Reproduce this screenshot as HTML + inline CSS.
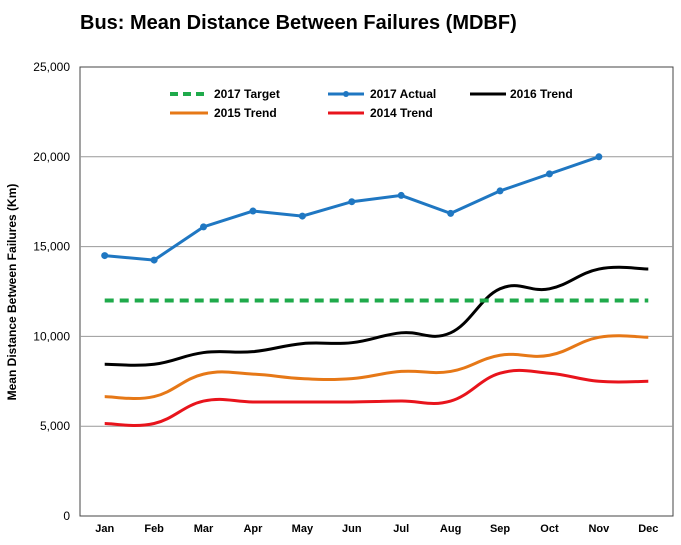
<!DOCTYPE html>
<html><head><meta charset="utf-8"><style>
body{margin:0;background:#fff;font-family:"Liberation Sans",Arial,sans-serif}
svg text{font-family:"Liberation Sans",Arial,sans-serif}
</style></head><body>
<svg id="c" width="681" height="540">
<text x="80" y="29" font-size="20" font-weight="bold">Bus: Mean Distance Between Failures (MDBF)</text>
<rect x="80" y="67" width="593" height="449" fill="none" stroke="#444" stroke-width="1"/>
<g id="grid"></g><g id="series"></g>
<text transform="translate(16,292) rotate(-90)" text-anchor="middle" font-size="12" font-weight="bold">Mean Distance Between Failures (Km)</text>
<g font-size="12" font-weight="bold">
<line x1="170" y1="94" x2="208" y2="94" stroke="#1faa4b" stroke-width="4" stroke-dasharray="8,5"/><text x="214" y="98">2017 Target</text>
<line x1="328" y1="94" x2="364" y2="94" stroke="#1f77c2" stroke-width="3"/><circle cx="346" cy="94" r="3" fill="#1f77c2"/><text x="370" y="98">2017 Actual</text>
<line x1="470" y1="94" x2="506" y2="94" stroke="#000" stroke-width="3"/><text x="510" y="98">2016 Trend</text>
<line x1="170" y1="113" x2="208" y2="113" stroke="#e67817" stroke-width="3"/><text x="214" y="117">2015 Trend</text>
<line x1="328" y1="113" x2="364" y2="113" stroke="#e8141c" stroke-width="3"/><text x="370" y="117">2014 Trend</text>
</g>
</svg>
<script>
const months=["Jan","Feb","Mar","Apr","May","Jun","Jul","Aug","Sep","Oct","Nov","Dec"];
const yTicks=[0,5000,10000,15000,20000,25000];
const target2017=[12000,12000,12000,12000,12000,12000,12000,12000,12000,12000,12000,12000];
const actual2017=[14500,14250,16100,16980,16700,17500,17850,16850,18100,19050,20000];
const trend2016=[8450,8450,9100,9150,9600,9650,10200,10200,12650,12650,13750,13750];
const trend2015=[6650,6650,7900,7900,7650,7650,8050,8050,8950,8950,9950,9950];
const trend2014=[5150,5150,6400,6350,6350,6350,6400,6400,7950,7950,7500,7500];
const NS="http://www.w3.org/2000/svg";
const X0=80,W=593,Y0=516,H=449,MAX=25000;
const x=i=>X0+(i+0.5)*W/months.length;
const y=v=>Y0-v/MAX*H;
function mk(t,a,p){const e=document.createElementNS(NS,t);for(const k in a)e.setAttribute(k,a[k]);p.appendChild(e);return e;}
const grid=document.getElementById('grid'),ser=document.getElementById('series');
yTicks.forEach(v=>{
 if(v>0&&v<MAX){const l=mk('line',{x1:X0,x2:X0+W,y1:y(v),y2:y(v),stroke:'#999','stroke-width':1},grid);
 
 }
 const t=mk('text',{x:X0-10,y:y(v)+4,'text-anchor':'end','font-size':12},grid);t.textContent=v.toLocaleString('en-US');
 
 
});
months.forEach((m,i)=>{const t=mk('text',{x:x(i),y:Y0+16,'text-anchor':'middle','font-size':11,'font-weight':'bold'},grid);t.textContent=m;
 
 });
function smooth(vals){const p=vals.map((v,i)=>[x(i),y(v)]);let d='M'+p[0][0]+','+p[0][1];
 for(let i=0;i<p.length-1;i++){const p0=p[i-1]||p[i],p1=p[i],p2=p[i+1],p3=p[i+2]||p2;const k=0.2;
 d+=` C${p1[0]+(p2[0]-p0[0])*k},${p1[1]+(p2[1]-p0[1])*k} ${p2[0]-(p3[0]-p1[0])*k},${p2[1]-(p3[1]-p1[1])*k} ${p2[0]},${p2[1]}`;}return d;}
function line(vals){return vals.map((v,i)=>(i?'L':'M')+x(i)+','+y(v)).join(' ');}
let e;
e=mk('path',{d:smooth(trend2014),fill:'none',stroke:'#e8141c','stroke-width':3},ser);


e=mk('path',{d:smooth(trend2015),fill:'none',stroke:'#e67817','stroke-width':3},ser);


e=mk('path',{d:smooth(trend2016),fill:'none',stroke:'#000','stroke-width':3},ser);


e=mk('path',{d:line(target2017),fill:'none',stroke:'#1faa4b','stroke-width':4,'stroke-dasharray':'9,6'},ser);


e=mk('path',{d:line(actual2017),fill:'none',stroke:'#1f77c2','stroke-width':3},ser);


actual2017.forEach((v,i)=>{const c=mk('circle',{cx:x(i),cy:y(v),r:3.5,fill:'#1f77c2'},ser);
 
 });
</script>
</body></html>
